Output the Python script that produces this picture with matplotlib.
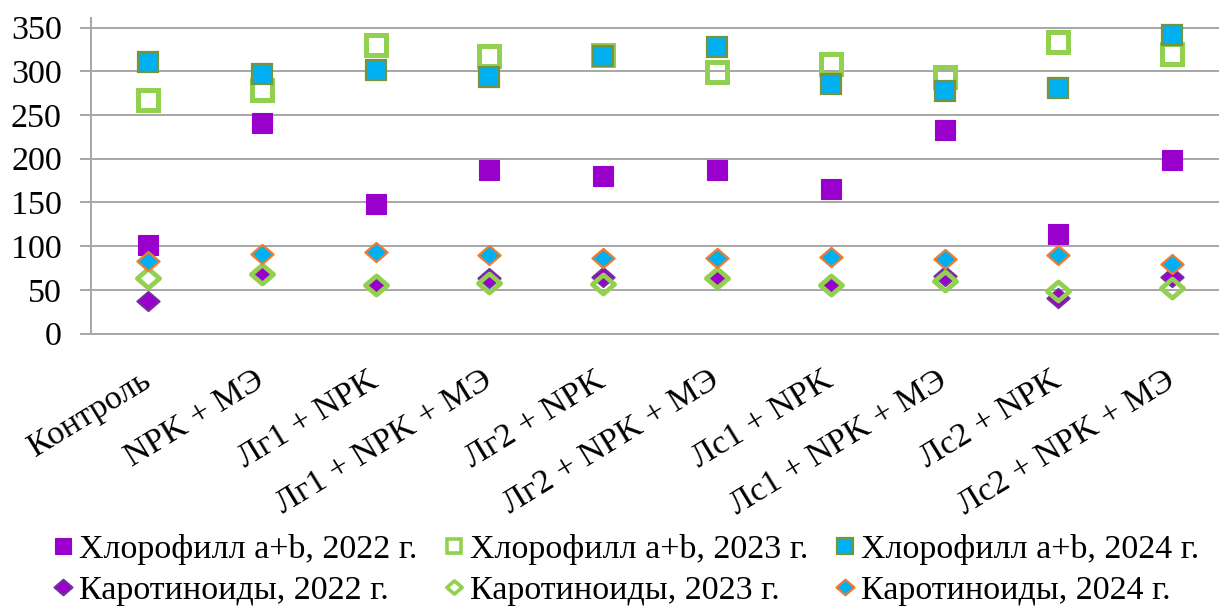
import matplotlib
matplotlib.use("Agg")
import matplotlib.pyplot as plt
from matplotlib.lines import Line2D
from matplotlib.markers import MarkerStyle
from matplotlib.path import Path
import numpy as np

plt.rcParams['font.family'] = ['Liberation Serif', 'DejaVu Serif']

categories = ["Контроль", "NPK + МЭ", "Лг1 + NPK", "Лг1 + NPK + МЭ", "Лг2 + NPK",
              "Лг2 + NPK + МЭ", "Лс1 + NPK", "Лс1 + NPK + МЭ", "Лс2 + NPK", "Лс2 + NPK + МЭ"]

chl_2022 = [101, 241, 148, 187, 180, 187, 165, 233, 114, 199]
chl_2023 = [267, 279, 330, 318, 319, 299, 308, 294, 334, 320]
chl_2024 = [311, 297, 302, 294, 317, 328, 285, 278, 281, 342]
car_2022 = [37, 68, 55, 63, 65, 63, 56, 66, 41, 65]
car_2023 = [64, 68, 55, 58, 57, 63, 56, 60, 49, 52]
car_2024 = [83, 91, 93, 90, 86, 86, 87, 85, 90, 80]

y_ticks = [0, 50, 100, 150, 200, 250, 300, 350]

W, H = 1219, 613
fig = plt.figure(figsize=(W / 100, H / 100), dpi=100)
ax = fig.add_axes([91 / W, 1 - 333.5 / H, (W - 91) / W, (333.5 - 18) / H])

x = np.arange(len(categories))
purple = "#9900CC"
green = "#92D050"
blue = "#00B0F0"

# slightly flattened diamond (wider than tall)
diamond_path = Path([(0, 0.86), (1, 0), (0, -0.86), (-1, 0), (0, 0.86)],
                    [Path.MOVETO, Path.LINETO, Path.LINETO, Path.LINETO, Path.CLOSEPOLY])


def diamond():
    return MarkerStyle(diamond_path, joinstyle="miter")


def square():
    return MarkerStyle("s", joinstyle="miter")


styles = [
    dict(data=chl_2022, label="Хлорофилл a+b, 2022 г.", marker=square, ms=14.6,
         mfc=purple, mec=purple, mew=0.8, lms=12),
    dict(data=chl_2023, label="Хлорофилл a+b, 2023 г.", marker=square, ms=15,
         mfc="none", mec=green, mew=3.6, lms=10.5),
    dict(data=chl_2024, label="Хлорофилл a+b, 2024 г.", marker=square, ms=14.8,
         mfc=blue, mec="#77933C", mew=1.6, lms=12),
    dict(data=car_2022, label="Каротиноиды, 2022 г.", marker=diamond, ms=16,
         mfc=purple, mec="#7030A0", mew=1.5, lms=13),
    dict(data=car_2023, label="Каротиноиды, 2023 г.", marker=diamond, ms=16,
         mfc="none", mec=green, mew=3.4, lms=11),
    dict(data=car_2024, label="Каротиноиды, 2024 г.", marker=diamond, ms=16,
         mfc=blue, mec="#ED7D31", mew=1.6, lms=13),
]

for i, s in enumerate(styles):
    ax.plot(x, s["data"], linestyle="none", marker=s["marker"](), ms=s["ms"],
            mfc=s["mfc"], mec=s["mec"], mew=s["mew"], zorder=3 + i)

ax.set_xlim(-0.5, -0.5 + (W - 91) / 113.8)
ax.set_ylim(0, 361)
ax.set_yticks(y_ticks)
ax.set_xticks(x)
ax.set_xticklabels(categories, rotation=31.5, ha="right", va="center",
                   rotation_mode="anchor")
ax.grid(axis="y", color="#A6A6A6", linewidth=1.4)
ax.set_axisbelow(True)

for side in ("top", "right"):
    ax.spines[side].set_visible(False)
for side in ("left", "bottom"):
    ax.spines[side].set_color("#A6A6A6")
    ax.spines[side].set_linewidth(1.4)

ax.tick_params(axis="y", length=8, width=1.4, color="#A6A6A6", pad=13,
               labelsize=24.5, direction="out")
ax.tick_params(axis="x", length=0, pad=32, labelsize=24.5)

# legend: three columns, chlorophyll on the first row, carotenoids on the second
order = [0, 3, 1, 4, 2, 5]
handles = []
for i in order:
    s = styles[i]
    handles.append(Line2D([], [], linestyle="none", marker=s["marker"](),
                          ms=s["lms"], mfc=s["mfc"], mec=s["mec"],
                          mew=min(s["mew"], 2.6), label=s["label"]))
fig.legend(handles=handles, ncol=3, loc="center left",
           bbox_to_anchor=(54 / W, 1 - 570 / H),
           frameon=False, fontsize=24.5, handlelength=0.53, handletextpad=0.2,
           columnspacing=0.82, labelspacing=0.28, borderaxespad=0, borderpad=0)

fig.savefig("out.png", dpi=100)
